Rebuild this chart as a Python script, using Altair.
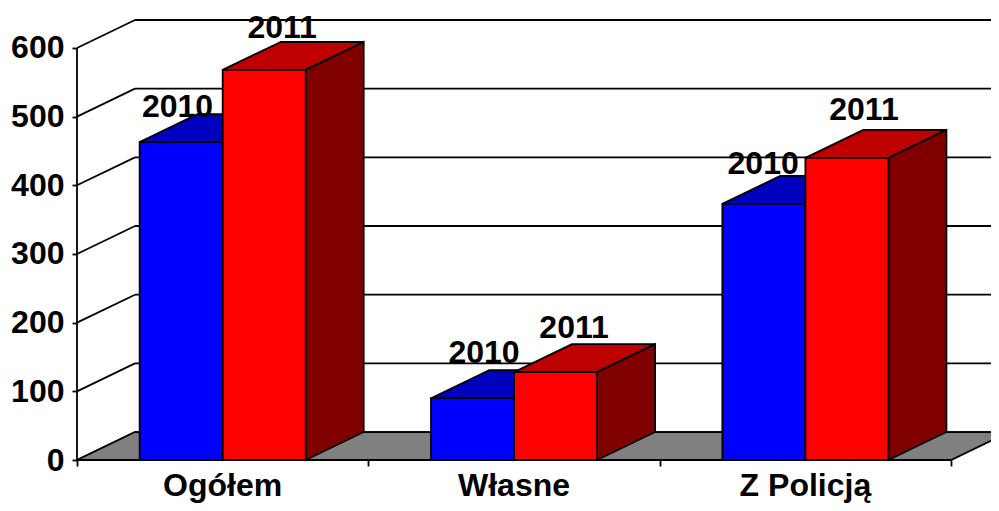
import altair as alt
import pandas as pd

CATEGORIES = ["Ogółem", "Własne", "Z Policją"]
VALUES_2010 = [463, 90, 373]
VALUES_2011 = [568, 128, 440]
TICKS = [0, 100, 200, 300, 400, 500, 600]

# depth of the 3D box, in axis units
DEPTH_X = 0.199
DEPTH_Y = 40.7
X_MAX = 3.137
Y_MAX = 640.7
BAR_W = 0.285
# label nudges (category units / value units) for each year
LABEL_NUDGE = {
    "2010": ([-0.0125, 0.0395, -0.0025], [36, 51.5, 43]),
    "2011": ([0.0615, 0.0635, 0.0585], [46, 49.6, 55]),
}

FONT = "Liberation Sans"
SW = 1.8
FS = 32
xs = alt.Scale(domain=[0, X_MAX], nice=False, zero=False)
ys = alt.Scale(domain=[0, Y_MAX], nice=False, zero=False)

X_AXIS = alt.Axis(values=[0, 1, 2, 3], labels=False, domain=False, grid=False, tickSize=6,
                  tickWidth=SW, tickColor="black", title=None)
Y_AXIS = alt.Axis(values=TICKS, domain=False, grid=False, tickSize=5, tickWidth=SW, tickColor="black",
                  labelFont=FONT, labelFontSize=FS, labelFontWeight="bold", labelColor="black",
                  labelPadding=8, title=None, labelBound=False, labelFlush=False)


def X():
    return alt.X("x:Q", scale=xs, axis=X_AXIS)


def Y():
    return alt.Y("y:Q", scale=ys, axis=Y_AXIS)


layers = []

# back wall lines
wall = pd.DataFrame({"x": [DEPTH_X] * len(TICKS), "x2": [X_MAX] * len(TICKS), "y": [t + DEPTH_Y for t in TICKS]})
layers.append(alt.Chart(wall).mark_rule(color="black", strokeWidth=SW).encode(x=X(), x2="x2:Q", y=Y()))

# left wall diagonals
diag = pd.DataFrame({"x": [0.0] * len(TICKS), "x2": [DEPTH_X] * len(TICKS),
                     "y": TICKS, "y2": [t + DEPTH_Y for t in TICKS]})
layers.append(alt.Chart(diag).mark_rule(color="black", strokeWidth=SW).encode(x=X(), x2="x2:Q", y=Y(), y2="y2:Q"))

# floor
floor = pd.DataFrame({"y": [0, DEPTH_Y], "x": [0, DEPTH_X], "x2": [3, 3 + DEPTH_X]})
layers.append(alt.Chart(floor).mark_area(orient="horizontal", color="#808080", stroke="black", strokeWidth=SW,
                                         clip=False).encode(y=Y(), x=X(), x2="x2:Q"))

# vertical axis line
axl = pd.DataFrame({"x": [0.0], "y": [0], "y2": [600]})
layers.append(alt.Chart(axl).mark_rule(color="black", strokeWidth=SW).encode(x=X(), y=Y(), y2="y2:Q"))


def bar_layers(values, offs, front, top, side):
    out = []
    for i, v in enumerate(values):
        x0 = i + 0.5 + offs
        x1 = x0 + BAR_W
        t = pd.DataFrame({"y": [v, v + DEPTH_Y], "x": [x0, x0 + DEPTH_X], "x2": [x1, x1 + DEPTH_X]})
        out.append(alt.Chart(t).mark_area(orient="horizontal", color=top, stroke="black", strokeWidth=SW)
                   .encode(y=Y(), x=X(), x2="x2:Q"))
        s = pd.DataFrame({"x": [x1, x1 + DEPTH_X], "y": [0, DEPTH_Y], "y2": [v, v + DEPTH_Y]})
        out.append(alt.Chart(s).mark_area(orient="vertical", color=side, stroke="black", strokeWidth=SW)
                   .encode(x=X(), y=Y(), y2="y2:Q"))
        f = pd.DataFrame({"x": [x0], "x2": [x1], "y": [0], "y2": [v]})
        out.append(alt.Chart(f).mark_rect(color=front, stroke="black", strokeWidth=SW)
                   .encode(x=X(), x2="x2:Q", y=Y(), y2="y2:Q"))
    return out


layers += bar_layers(VALUES_2010, -BAR_W, "#0000ff", "#0000bf", "#000080")
layers += bar_layers(VALUES_2011, 0.0, "#ff0000", "#bf0000", "#800000")

# value labels
rows = []
for yr, vals, offs in [("2010", VALUES_2010, -BAR_W / 2), ("2011", VALUES_2011, BAR_W / 2)]:
    nx, ny = LABEL_NUDGE[yr]
    for i, v in enumerate(vals):
        rows.append({"x": i + 0.5 + offs + nx[i], "y": v + ny[i], "t": yr})
lab = pd.DataFrame(rows)
layers.append(alt.Chart(lab).mark_text(font=FONT, fontSize=FS, fontWeight="bold", color="black",
                                       align="center", baseline="alphabetic")
              .encode(x=X(), y=Y(), text="t:N"))

# category labels
cat = pd.DataFrame({"x": [i + 0.5 for i in range(3)], "y": [0] * 3, "t": CATEGORIES})
layers.append(alt.Chart(cat).mark_text(font=FONT, fontSize=FS, fontWeight="bold", color="black",
                                       align="center", baseline="alphabetic", dy=36)
              .encode(x=X(), y=Y(), text="t:N"))

chart = alt.layer(*layers).properties(
    width=914, height=440,
    autosize=alt.AutoSizeParams(type="none"),
    padding={"left": 69, "top": 12, "right": 0, "bottom": 43},
    background="white",
).configure_view(stroke=None)

chart.save("out.html", embed_options={"renderer": "svg", "actions": False})
